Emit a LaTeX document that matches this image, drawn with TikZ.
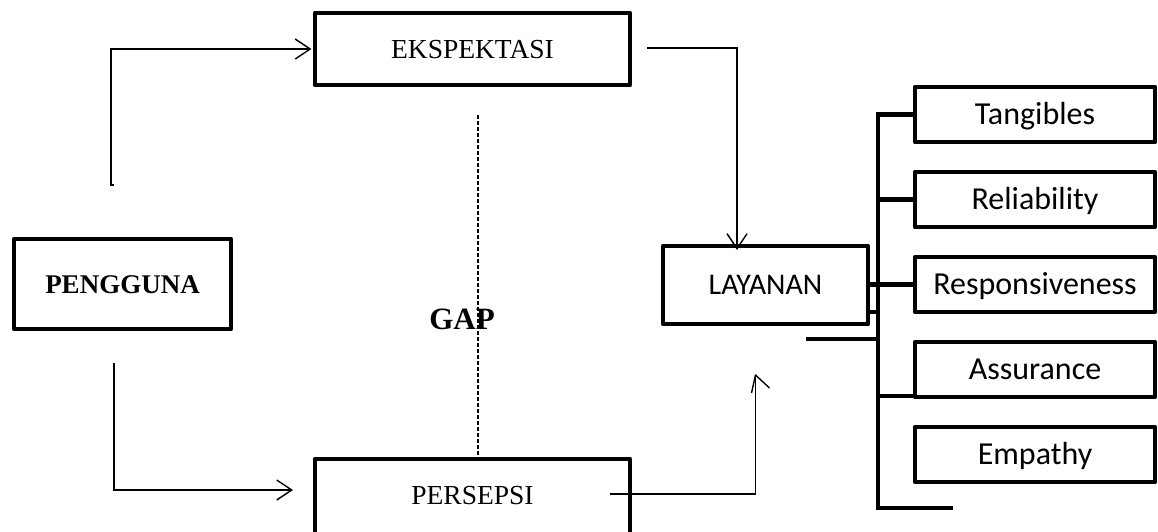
\documentclass[tikz,border=0pt]{standalone}
\usepackage{fontspec}
\setmainfont{Liberation Serif}
\newfontfamily\calibri{Carlito}
\usetikzlibrary{arrows.meta}
\begin{document}
\begin{tikzpicture}[x=1pt,y=-1pt,
  thickbox/.style={draw, line width=4.2pt, line join=round, inner sep=0pt},
  serifbox/.style={thickbox, font=\fontsize{27.5}{30}\selectfont, text height=18.2pt, text depth=0pt},
  dimbox/.style={thickbox, font=\calibri\fontsize{32}{36}\selectfont, minimum width=240pt, minimum height=55pt, text height=20.6pt, text depth=0pt},
  arr/.style={draw, line width=1.4pt, -{Straight Barb[length=15pt,width=20pt]}},
  thinline/.style={draw, line width=1.4pt},
  gapline/.style={draw, line width=1.1pt, dash pattern=on 4pt off 2pt},
  bracket/.style={draw, line width=4.2pt, line join=miter}]
\useasboundingbox (0,0) rectangle (1158,531);
\clip (0,0) rectangle (1158,531);

% main boxes
\node[serifbox, minimum width=315pt, minimum height=72pt] (ekspektasi) at (472.5,49) {EKSPEKTASI};
\node[thickbox, font=\bfseries\fontsize{27}{30}\selectfont, text height=18.3pt, text depth=0pt,
      minimum width=217pt, minimum height=90pt] (pengguna) at (122.5,284) {PENGGUNA};
\node[serifbox, minimum width=315pt, minimum height=77pt, text depth=5pt] (persepsi) at (472.5,497.5) {PERSEPSI};
\node[thickbox, font=\calibri\fontsize{30}{34}\selectfont, text height=19.3pt, text depth=0pt,
      minimum width=205pt, minimum height=78pt] (layanan) at (765.5,285) {LAYANAN};

% dimension boxes
\node[dimbox] (tangibles) at (1035,114.5) {Tangibles};
\node[dimbox] (reliability) at (1035,199.5) {Reliability};
\node[dimbox] (responsiveness) at (1035,284.5) {Responsiveness};
\node[dimbox] (assurance) at (1035,369.5) {Assurance};
\node[dimbox] (empathy) at (1035,454.5) {Empathy};

% GAP
\coordinate (d1) at (478,115);
\draw[gapline] (d1) -- (d1 |- persepsi.north);
\node[font=\bfseries\fontsize{31}{34}\selectfont, text height=21pt, text depth=0pt, inner sep=0pt] (gap) at (462,319) {GAP};

% arrows
\coordinate (a0) at (113.5,185);
\coordinate (a1) at (111,185);
\draw[arr, shorten >=1.5pt] (a0) -- (a1) |- (ekspektasi.west);

\coordinate (b0) at (114,363);
\coordinate (b1) at (293,490);
\draw[arr] (b0) |- (b1);

\coordinate (c0) at (647,48);
\draw[arr] (c0) -| ([xshift=-28.5pt,yshift=-6pt]layanan.north);

\coordinate (e0) at ([xshift=-22pt,yshift=3.5pt]persepsi.east);
\coordinate (e1) at (755.5,375);
\draw[thinline] (e0) -| (e1);
\draw[thinline, line join=round] (e1) ++(-4,18) -- (e1) -- ++(14,13);

% bracket
\coordinate (bt) at (878,114.5);
\coordinate (bb) at (878,508);
\draw[bracket] (tangibles.west) -- (bt) -- (bb) -- ++(75,0);
\draw[bracket] (bt |- reliability.west) -- (reliability.west);
\draw[bracket] (layanan.east |- responsiveness.west) -- (responsiveness.west);
\draw[bracket] (layanan.east |- 0,312) -- (bt |- 0,312);
\draw[bracket] (806,339) -- (bt |- 0,339);
\draw[bracket] (bt |- 0,396) -- (assurance.west |- 0,396);
\end{tikzpicture}
\end{document}
